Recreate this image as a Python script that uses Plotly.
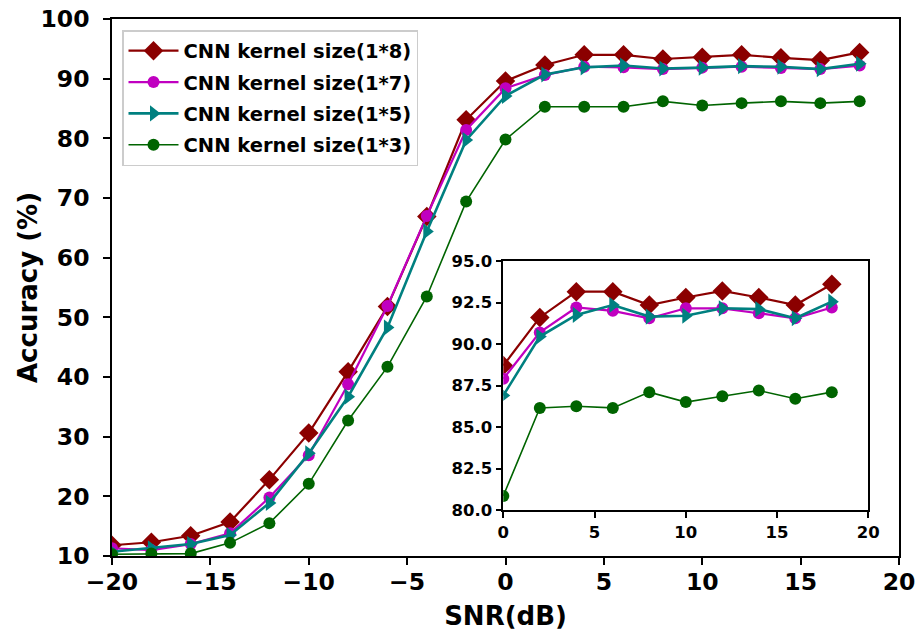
import plotly.graph_objects as go

# ---- data: main plot ----
snr = [-20, -18, -16, -14, -12, -10, -8, -6, -4, -2, 0, 2, 4, 6, 8, 10, 12, 14, 16, 18]
acc_k8 = [11.8, 12.3, 13.4, 15.7, 22.8, 30.6, 40.9, 51.8, 66.9, 83.1, 89.6,
          92.3, 94.0, 94.0, 93.3, 93.6, 94.0, 93.5, 93.1, 94.4]
acc_k7 = [11.3, 11.0, 12.0, 13.8, 19.8, 26.9, 38.8, 51.9, 67.0, 81.4, 88.4,
          90.6, 92.0, 91.9, 91.6, 91.85, 92.0, 91.8, 91.6, 92.2]
acc_k5 = [10.7, 11.3, 12.0, 13.5, 18.9, 27.2, 36.7, 48.3, 64.4, 79.7, 87.1,
          90.7, 91.9, 92.2, 91.7, 91.85, 92.1, 92.0, 91.6, 92.5]
acc_k3 = [10.3, 10.4, 10.4, 12.2, 15.5, 22.1, 32.7, 41.7, 53.5, 69.4, 79.8,
          85.3, 85.3, 85.3, 86.2, 85.5, 85.9, 86.2, 85.9, 86.2]

# ---- data: inset (zoomed) ----
snr_in = [0, 2, 4, 6, 8, 10, 12, 14, 16, 18]
in_k8 = [88.7, 91.6, 93.15, 93.15, 92.35, 92.8, 93.2, 92.8, 92.35, 93.6]
in_k7 = [87.9, 90.7, 92.2, 92.0, 91.55, 92.15, 92.15, 91.85, 91.55, 92.2]
in_k5 = [86.9, 90.45, 91.75, 92.35, 91.65, 91.7, 92.15, 92.1, 91.55, 92.55]
in_k3 = [80.85, 86.15, 86.25, 86.15, 87.1, 86.5, 86.85, 87.2, 86.7, 87.1]

labels = ["CNN kernel size(1*8)", "CNN kernel size(1*7)",
          "CNN kernel size(1*5)", "CNN kernel size(1*3)"]
colors = ["#8B0000", "#C000C0", "#008080", "#006400"]
symbols = ["diamond", "circle", "triangle-right", "circle"]
msizes = [15, 12, 14, 12]
lwidths = [2.2, 2.2, 2.6, 1.6]

main_series = [acc_k8, acc_k7, acc_k5, acc_k3]
inset_series = [in_k8, in_k7, in_k5, in_k3]

fig = go.Figure()
for i in range(4):
    fig.add_trace(go.Scatter(
        x=snr, y=main_series[i], mode="lines+markers", name=labels[i],
        legendgroup="g%d" % i,
        line=dict(color=colors[i], width=lwidths[i]),
        marker=dict(symbol=symbols[i], size=msizes[i], color=colors[i]),
        xaxis="x", yaxis="y"))
for i in range(4):
    fig.add_trace(go.Scatter(
        x=snr_in, y=inset_series[i], mode="lines+markers", showlegend=False,
        line=dict(color=colors[i], width=lwidths[i]),
        marker=dict(symbol=symbols[i], size=msizes[i], color=colors[i]),
        xaxis="x2", yaxis="y2"))

W, H = 921, 637
font_fam = "DejaVu Sans"
tick_font = dict(family=font_fam, size=23.5, color="black", weight="bold")
inset_font = dict(family=font_fam, size=16.5, color="black", weight="bold")
title_font = dict(family=font_fam, size=26, color="black", weight="bold")
axis_common = dict(showline=True, linecolor="black", linewidth=1.5, mirror=True,
                   ticks="outside", tickcolor="black", tickwidth=1.5, showgrid=False,
                   zeroline=False, automargin=False)

fig.update_layout(
    width=W, height=H,
    margin=dict(l=0, r=0, t=0, b=0),
    paper_bgcolor="white", plot_bgcolor="white",
    font=dict(family=font_fam, color="black"),
    xaxis=dict(domain=[112 / W, 899 / W], range=[-20, 20], tickvals=[-20, -15, -10, -5, 0, 5, 10, 15, 20],
               ticktext=["\u221220", "\u221215", "\u221210", "\u22125", "0", "5", "10", "15", "20"],
               tickfont=tick_font, ticklen=7, ticklabelstandoff=-3,
               title=dict(text="SNR(dB)", font=title_font, standoff=12),
               **axis_common),
    yaxis=dict(domain=[(H - 556) / H, (H - 19) / H], range=[10, 100], tickvals=list(range(10, 101, 10)),
               tickfont=tick_font, ticklen=7, ticklabelstandoff=9,
               **axis_common),
    xaxis2=dict(domain=[503.3 / W, 868.3 / W], range=[0, 20], tickvals=[0, 5, 10, 15, 20],
                anchor="y2", tickfont=inset_font, ticklen=6,
                **axis_common),
    yaxis2=dict(domain=[(H - 510) / H, (H - 261) / H], range=[80, 95],
                tickvals=[80, 82.5, 85, 87.5, 90, 92.5, 95],
                ticktext=["80.0", "82.5", "85.0", "87.5", "90.0", "92.5", "95.0"],
                anchor="x2", tickfont=inset_font, ticklen=6,
                **axis_common),
    legend=dict(x=122 / W, y=1 - 30 / H, xanchor="left", yanchor="top",
                bgcolor="rgba(255,255,255,0.9)", bordercolor="#cccccc", borderwidth=1.5,
                font=dict(family=font_fam, size=19.5, color="black", weight="bold"),
                itemwidth=50, tracegroupgap=3),
    annotations=[dict(text="Accuracy (%)", textangle=-90, font=title_font,
                      xref="paper", yref="paper", x=28 / W, y=1 - 288 / H,
                      xanchor="center", yanchor="middle", showarrow=False)],
)

fig.write_html("out.html")
